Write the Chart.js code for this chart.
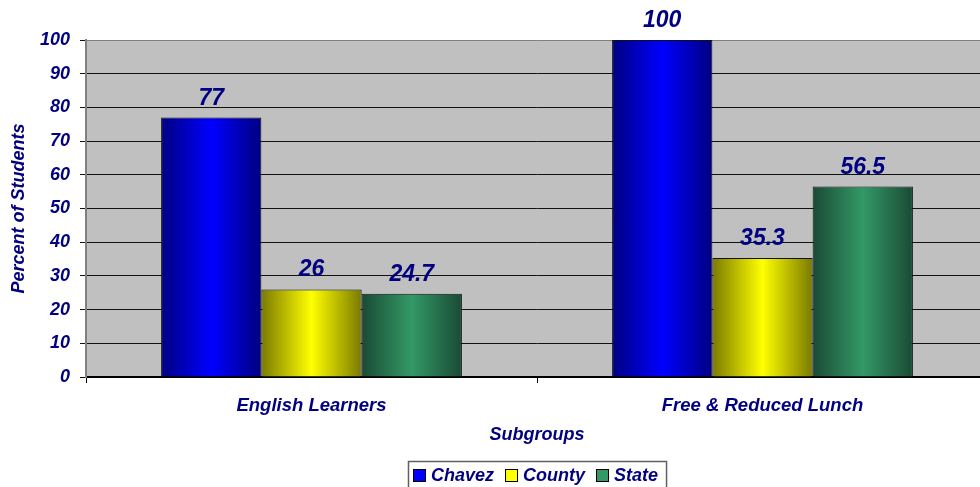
<!DOCTYPE html>
<html>
<head>
<meta charset="utf-8">
<script src="https://cdn.jsdelivr.net/npm/chart.js@4/dist/chart.umd.min.js"></script>
<style>
html,body{margin:0;padding:0;background:#fff;overflow:hidden;}
#wrap{width:980px;height:487px;position:relative;overflow:hidden;}
#c{display:block;}
</style>
</head>
<body>
<div id="wrap"><canvas id="c" width="988" height="487"></canvas></div>
<script>
const categories = ["English Learners", "Free & Reduced Lunch"];
const seriesNames = ["Chavez", "County", "State"];
const chavez = [77, 100];
const county = [26, 35.3];
const state = [24.7, 56.5];
const yTicks = [0, 10, 20, 30, 40, 50, 60, 70, 80, 90, 100];

const NAVY = '#000080';
const FONT = '"Liberation Sans", Arial, sans-serif';
const shades = [
  {edge: '#000080', mid: '#0000ff', key: '#0000ff'},
  {edge: '#7a7a00', mid: '#ffff00', key: '#ffff00'},
  {edge: '#1a4a35', mid: '#339966', key: '#339966'}
];

const plotBg = {
  id: 'plotBg',
  beforeDraw(chart) {
    const {ctx, chartArea: a} = chart;
    ctx.save();
    ctx.fillStyle = '#c0c0c0';
    ctx.fillRect(a.left, a.top, a.right - a.left, a.bottom - a.top);
    ctx.restore();
  }
};

const gradientBars = {
  id: 'gradientBars',
  beforeDatasetsDraw(chart) {
    const ctx = chart.ctx;
    chart.data.datasets.forEach((ds, di) => {
      const meta = chart.getDatasetMeta(di);
      meta.data.forEach(bar => {
        const l = bar.x - bar.width / 2, r = bar.x + bar.width / 2;
        const g = ctx.createLinearGradient(l, 0, r, 0);
        g.addColorStop(0, shades[di].edge);
        g.addColorStop(0.5, shades[di].mid);
        g.addColorStop(1, shades[di].edge);
        bar.options = Object.assign({}, bar.options, {backgroundColor: g});
      });
    });
  }
};

const valueLabels = {
  id: 'valueLabels',
  afterDatasetsDraw(chart) {
    const ctx = chart.ctx;
    ctx.save();
    ctx.font = 'italic bold 23px ' + FONT;
    ctx.fillStyle = NAVY;
    ctx.textAlign = 'center';
    ctx.textBaseline = 'alphabetic';
    chart.data.datasets.forEach((ds, di) => {
      const meta = chart.getDatasetMeta(di);
      meta.data.forEach((bar, i) => {
        ctx.fillText(String(ds.data[i]), bar.x, bar.y - 13);
      });
    });
    ctx.restore();
  }
};

const boxLegend = {
  id: 'boxLegend',
  afterDraw(chart) {
    const ctx = chart.ctx;
    ctx.save();
    ctx.font = 'italic bold 18px ' + FONT;
    const sq = 13, gap1 = 5, gap2 = 11, padL = 5, padR = 8;
    let total = padL + padR;
    const widths = chart.data.datasets.map(d => ctx.measureText(d.label).width);
    widths.forEach((w, i) => { total += sq + gap1 + w + (i < widths.length - 1 ? gap2 : 0); });
    const cx = 537;
    const left = Math.round(cx - total / 2);
    const top = 461, h = 32, cy = 475;
    ctx.fillStyle = '#fff';
    ctx.fillRect(left, top, total, h);
    ctx.strokeStyle = '#606060';
    ctx.lineWidth = 1.5;
    ctx.strokeRect(left + 0.5, top + 0.5, total, h);
    let x = left + padL;
    chart.data.datasets.forEach((d, i) => {
      ctx.fillStyle = shades[i].key;
      ctx.fillRect(x, cy - 6, sq, sq);
      ctx.strokeStyle = '#000';
      ctx.lineWidth = 1;
      ctx.strokeRect(x + 0.5, cy - 5.5, sq - 1, sq - 1);
      x += sq + gap1;
      ctx.fillStyle = NAVY;
      ctx.textAlign = 'left';
      ctx.textBaseline = 'middle';
      ctx.fillText(d.label, x, cy + 1);
      x += widths[i] + gap2;
    });
    ctx.restore();
  }
};

const values = [chavez, county, state];
new Chart(document.getElementById('c'), {
  type: 'bar',
  data: {
    labels: categories,
    datasets: seriesNames.map((n, i) => ({
      label: n,
      data: values[i],
      backgroundColor: shades[i].mid,
      borderColor: '#111',
      borderWidth: 1,
      categoryPercentage: 0.667,
      barPercentage: 1.0
    }))
  },
  options: {
    responsive: false,
    animation: false,
    layout: {padding: {top: 40, left: 0, right: 0, bottom: 0}},
    plugins: {
      legend: {display: false},
      tooltip: {enabled: false}
    },
    scales: {
      x: {
        afterFit(s) { s.height = 110; },
        grid: {display: true, drawOnChartArea: false, drawTicks: true, tickLength: 6, color: '#000', offset: true},
        border: {display: true, color: '#000', width: 2},
        ticks: {color: NAVY, font: {family: FONT, size: 18.5, style: 'italic', weight: 'bold'}, padding: 12, maxRotation: 0},
        title: {display: true, text: 'Subgroups', color: NAVY, font: {family: FONT, size: 18, style: 'italic', weight: 'bold'}, padding: {top: 0, bottom: 41}}
      },
      y: {
        min: 0, max: 100,
        afterFit(s) { s.width = 86; },
        afterBuildTicks(s) { s.ticks = yTicks.map(v => ({value: v})); },
        grid: {
          color: ctx => (ctx.tick && ctx.tick.value === 100) ? '#808080' : '#111',
          tickColor: '#111',
          tickLength: 6,
          lineWidth: 1
        },
        border: {display: true, color: '#808080', width: 2},
        ticks: {color: NAVY, font: {family: FONT, size: 18, style: 'italic', weight: 'bold'}, padding: 10},
        title: {display: true, text: 'Percent of Students', color: NAVY, font: {family: FONT, size: 18, style: 'italic', weight: 'bold'}, padding: {top: 8, bottom: 0}}
      }
    }
  },
  plugins: [plotBg, gradientBars, valueLabels, boxLegend]
});
</script>
</body>
</html>
